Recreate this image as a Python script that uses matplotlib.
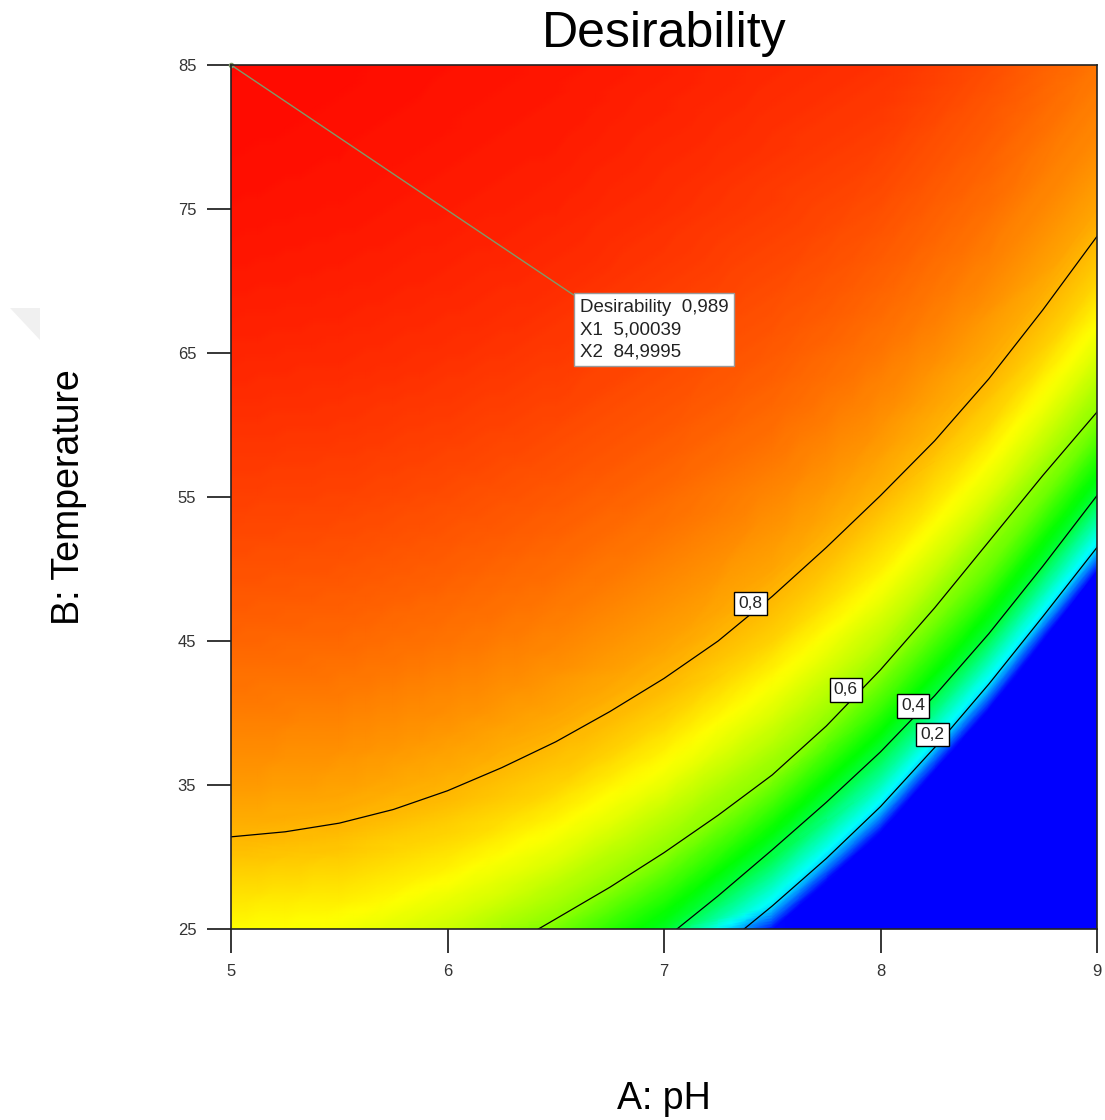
import numpy as np
import matplotlib
matplotlib.use("Agg")
import matplotlib.pyplot as plt
import matplotlib.tri as mtri
from matplotlib.colors import LinearSegmentedColormap
from matplotlib.patches import Polygon

plt.rcParams['font.family'] = ['Liberation Sans', 'DejaVu Sans']

# --- data ---
ph_values = [5.0, 5.5, 6.0, 6.5, 7.0, 7.5, 8.0, 8.5, 9.0]
temp_values = [25, 30, 35, 40, 45, 50, 55, 60, 65, 70, 75, 80, 85]

# desirability along temperature (25..85) for each pH column
d_ph50 = [0.72, 0.785, 0.83, 0.862, 0.888, 0.91, 0.929, 0.945, 0.959, 0.971, 0.98, 0.986, 0.989]
d_ph55 = [0.71, 0.775, 0.823, 0.857, 0.884, 0.906, 0.925, 0.941, 0.955, 0.967, 0.976, 0.982, 0.986]
d_ph60 = [0.665, 0.745, 0.803, 0.842, 0.872, 0.895, 0.915, 0.932, 0.947, 0.959, 0.969, 0.976, 0.981]
d_ph65 = [0.576, 0.688, 0.769, 0.818, 0.853, 0.88, 0.902, 0.92, 0.936, 0.95, 0.961, 0.97, 0.975]
d_ph70 = [0.416, 0.59, 0.696, 0.774, 0.822, 0.855, 0.882, 0.903, 0.92, 0.935, 0.948, 0.958, 0.966]
d_ph75 = [0.04, 0.39, 0.57, 0.684, 0.766, 0.817, 0.851, 0.879, 0.90, 0.917, 0.932, 0.945, 0.955]
d_ph80 = [0.0, 0.0, 0.285, 0.50, 0.648, 0.737, 0.799, 0.839, 0.869, 0.892, 0.912, 0.93, 0.945]
d_ph85 = [0.0, 0.0, 0.0, 0.01, 0.373, 0.56, 0.679, 0.762, 0.814, 0.85, 0.877, 0.897, 0.915]
d_ph90 = [0.0, 0.0, 0.0, 0.0, 0.0, 0.05, 0.395, 0.575, 0.686, 0.768, 0.818, 0.85, 0.87]

# contour lines traced on the picture (pH, temperature)
iso08_ph = [5.0, 5.25, 5.5, 5.75, 6.0, 6.25, 6.5, 6.75, 7.0, 7.25, 7.5, 7.75, 8.0, 8.25, 8.5, 8.75, 9.0]
iso08_t = [31.4, 31.75, 32.35, 33.3, 34.6, 36.2, 38.0, 40.1, 42.4, 45.0, 48.1, 51.5, 55.1, 58.9, 63.2, 68.0, 73.1]
iso06_ph = [6.42, 6.5, 6.75, 7.0, 7.25, 7.5, 7.75, 8.0, 8.25, 8.5, 8.75, 9.0]
iso06_t = [25.0, 25.7, 27.9, 30.3, 32.9, 35.7, 39.1, 43.0, 47.3, 51.9, 56.5, 60.9]
iso04_ph = [7.06, 7.25, 7.5, 7.75, 8.0, 8.25, 8.5, 8.75, 9.0]
iso04_t = [25.0, 27.3, 30.5, 33.8, 37.3, 41.2, 45.5, 50.2, 55.1]
iso02_ph = [7.37, 7.5, 7.75, 8.0, 8.25, 8.5, 8.75, 9.0]
iso02_t = [25.0, 26.6, 29.9, 33.5, 37.6, 42.0, 46.7, 51.5]
# edge of the blue (zero) region
iso00_ph = [7.54, 7.75, 8.0, 8.25, 8.5, 8.75, 9.0]
iso00_t = [25.0, 27.8, 31.4, 35.4, 39.8, 44.6, 49.5]

contour_levels = [0.8, 0.6, 0.4, 0.2]
# centres of the level labels (pH, temperature)
label_ph = [7.40, 7.84, 8.15, 8.24]
label_temp = [47.6, 41.6, 40.5, 38.5]

# optimum point
opt_desirability = 0.989
opt_ph = 5.00039
opt_temp = 84.9995


def comma(v, fmt):
    return format(v, fmt).replace('.', ',')


Z = np.column_stack([d_ph50, d_ph55, d_ph60, d_ph65, d_ph70,
                     d_ph75, d_ph80, d_ph85, d_ph90])
lines = [(0.8, iso08_ph, iso08_t), (0.6, iso06_ph, iso06_t),
         (0.4, iso04_ph, iso04_t), (0.2, iso02_ph, iso02_t),
         (0.0, iso00_ph, iso00_t)]

# one vertical profile per pH column: grid values plus traced level crossings
X, Y, V, columns = [], [], [], []
for j, ph in enumerate(ph_values):
    pts = [(t, Z[i, j]) for i, t in enumerate(temp_values)]
    for lev, xs, ys in lines:
        pts += [(y, lev) for x, y in zip(xs, ys) if abs(x - ph) < 1e-9]
    pts.sort()
    idx = []
    for t, v in pts:
        idx.append(len(X))
        X.append(ph)
        Y.append(t)
        V.append(v)
    columns.append(idx)

# join neighbouring columns so that equal levels get connected
triangles = []
for a, b in zip(columns[:-1], columns[1:]):
    i = j = 0
    while i < len(a) - 1 or j < len(b) - 1:
        if i == len(a) - 1:
            step_a = False
        elif j == len(b) - 1:
            step_a = True
        else:
            step_a = (V[a[i + 1]], Y[a[i + 1]]) <= (V[b[j + 1]], Y[b[j + 1]])
        if step_a:
            triangles.append([a[i], b[j], a[i + 1]])
            i += 1
        else:
            triangles.append([a[i], b[j], b[j + 1]])
            j += 1

tri = mtri.Triangulation(X, Y, triangles)
V = np.array(V, float)
refiner = mtri.UniformTriRefiner(tri)
tri_f, v_f = refiner.refine_field(V, triinterpolator=mtri.LinearTriInterpolator(tri, V),
                                  subdiv=3)

cmap = LinearSegmentedColormap.from_list(
    "desir", [(0.0, "#0000ff"), (0.03, "#0000ff"), (0.22, "#00ffff"),
              (0.45, "#00ff00"), (0.72, "#ffff00"), (1.0, "#ff0000")])

fig = plt.figure(figsize=(11.05, 11.20), dpi=100)
ax = fig.add_axes([231 / 1105, 1 - 929 / 1120, 866 / 1105, 864 / 1120])

ax.tripcolor(tri_f, v_f, shading='gouraud', cmap=cmap, vmin=0, vmax=1)
for lev, xs, ys in lines:
    if lev in contour_levels:
        ax.plot(xs, ys, color='black', lw=0.9, zorder=3)

for lev, x, y in zip(contour_levels, label_ph, label_temp):
    ax.text(x, y, comma(lev, '.1f'), ha='center', va='center', fontsize=12.5,
            color='#222222', zorder=5,
            bbox=dict(boxstyle='square,pad=0.25', fc='white', ec='black', lw=1.0))

# optimum annotation
ann_text = (f"Desirability  {comma(opt_desirability, '.3f')}\n"
            f"X1  {comma(opt_ph, '.5f')}\n"
            f"X2  {comma(opt_temp, '.4f')}")
ax.annotate(ann_text, xy=(opt_ph, opt_temp), xytext=(6.61, 68.75),
            ha='left', va='top', fontsize=13.5, color='#222222', linespacing=1.4,
            bbox=dict(boxstyle='square,pad=0.3', fc='white', ec='#999999', lw=1.0),
            arrowprops=dict(arrowstyle='-', color='#7f9a6a', lw=1.0,
                            shrinkA=0, shrinkB=0, relpos=(0, 1)),
            annotation_clip=False, zorder=6)
ax.plot([opt_ph], [opt_temp], 'o', ms=3, color='#7f9a6a', clip_on=False, zorder=6)

ax.set_xlim(5, 9)
ax.set_ylim(25, 85)
ax.set_xticks([5, 6, 7, 8, 9])
ax.set_yticks([25, 35, 45, 55, 65, 75, 85])
ax.tick_params(direction='out', length=17, width=1.1, pad=8,
               labelsize=12, labelcolor='#333333', color='black')
for sp in ax.spines.values():
    sp.set_linewidth(1.2)
    sp.set_color('#222222')
    sp.set_zorder(7)

ax.set_title("Desirability", fontsize=36, pad=13)
ax.set_xlabel("A: pH", fontsize=27)
ax.set_ylabel("B: Temperature", fontsize=27)
ax.xaxis.set_label_coords(0.5, -0.176)
ax.yaxis.set_label_coords(-0.166, 0.5)

# faint page mark on the left
fig.patches.append(Polygon([(10 / 1105, 1 - 308 / 1120), (40 / 1105, 1 - 308 / 1120),
                            (40 / 1105, 1 - 340 / 1120)], closed=True,
                           transform=fig.transFigure, fc='#f0f0f0', ec='none'))

fig.savefig("out.png", dpi=100)
